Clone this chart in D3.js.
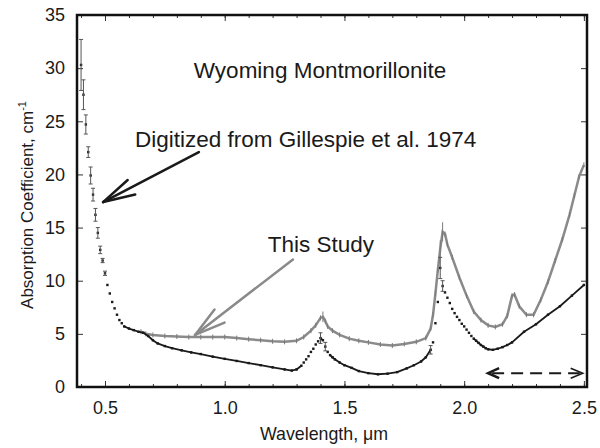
<!DOCTYPE html>
<meta charset="utf-8">
<script src="https://d3js.org/d3.v7.min.js"></script>
<style>
  body { margin: 0; background: #fff; }
  text { font-family: "Liberation Sans", Arial, sans-serif; fill: #1a1a1a; }
</style>
<div id="chart"></div>
<script>

var gilWl = [0.40,0.41,0.42,0.43,0.44,0.45,0.46,0.47,0.48,0.49,0.50,0.51,0.52,0.53,0.54,0.55,0.56,0.57,0.58,
  0.60,0.62,0.64,0.66,0.68,0.70,0.72,0.75,0.78,0.82,0.86,0.90,0.95,1.00,1.05,1.10,1.15,1.20,1.25,1.28,
  1.30,1.32,1.33,1.34,1.35,1.36,1.37,1.38,1.39,1.40,1.41,1.42,1.43,1.44,1.45,1.46,1.48,1.50,1.53,1.56,1.60,1.64,1.68,1.72,1.76,
  1.79,1.82,1.84,1.86,1.87,1.88,1.89,1.90,1.91,1.92,1.93,1.94,1.95,1.96,1.97,1.98,1.99,2.00,2.01,2.02,2.03,
  2.04,2.05,2.06,2.07,2.08,2.09,2.10,2.12,2.14,2.16,2.18,2.20,2.25,2.30,2.35,2.40,2.45,2.50]
var gilVal = [30.3,27.5,24.7,22.1,19.9,18.1,16.2,14.5,12.9,11.9,10.7,9.6,8.8,8.0,7.4,6.8,6.3,6.0,5.7,
  5.5,5.35,5.2,5.1,4.8,4.4,4.1,3.85,3.65,3.45,3.25,3.1,2.85,2.65,2.45,2.25,2.05,1.85,1.65,1.55,
  1.65,2.0,2.3,2.6,2.9,3.3,3.6,4.0,4.3,4.6,4.4,3.8,3.3,3.0,2.8,2.6,2.3,2.05,1.8,1.5,1.3,1.2,1.25,1.4,1.75,
  2.05,2.4,2.8,3.5,4.2,6.0,8.0,11.2,9.5,8.9,8.4,7.9,7.35,6.95,6.6,6.3,5.95,5.7,5.4,5.1,4.8,
  4.55,4.35,4.15,3.95,3.8,3.65,3.55,3.5,3.6,3.75,3.95,4.2,5.2,5.9,6.8,7.6,8.6,9.6]
var gilErr = [2.4,1.4,0.9,0.5,0.8,0.6,0.6,0.5,0.35,0.2,0.2,0,0,0,0,0,0,0,0,
  0,0,0,0,0,0,0,0,0,0,0,0,0,0,0,0,0,0,0,0,
  0,0,0,0,0,0,0,0,0,0.5,0,0.4,0,0,0,0,0,0,0,0,0,0,0,0,0,
  0,0,0,0.4,0,0,0,1.0,0.5,0,0,0,0,0,0,0,0,0,0,0,0,
  0,0,0,0,0,0,0,0,0,0,0,0,0,0,0,0,0,0]

// This study - gray line
var studyWl = [0.65,0.67,0.70,0.75,0.80,0.85,0.90,0.95,1.00,1.05,1.10,1.15,1.20,1.25,1.30,1.33,1.36,1.38,
  1.40,1.41,1.42,1.43,1.45,1.48,1.52,1.56,1.60,1.65,1.70,1.75,1.80,1.84,1.86,1.87,1.88,1.89,1.90,1.91,
  1.92,1.93,1.95,1.98,2.01,2.04,2.07,2.10,2.13,2.16,2.18,2.20,2.21,2.23,2.26,2.29,2.32,2.35,2.38,2.41,
  2.44,2.46,2.48,2.50]
var studyVal = [5.2,5.0,4.9,4.8,4.75,4.7,4.7,4.7,4.7,4.6,4.5,4.4,4.3,4.25,4.35,4.7,5.3,5.8,
  6.5,6.6,6.2,5.7,5.3,4.9,4.55,4.35,4.2,4.0,3.9,4.05,4.25,4.6,5.5,6.8,8.8,11.0,13.0,14.6,
  14.4,13.4,12.2,10.3,8.6,7.1,6.3,5.8,5.65,5.9,6.7,8.6,8.7,7.6,6.8,6.8,8.2,9.9,11.9,13.9,
  16.2,18.0,19.8,20.9]
var studyErr = {1.41: 0.5, 1.90: 0.8, 1.91: 0.9}

var xTicks = [0.5, 1.0, 1.5, 2.0, 2.5]
var yTicks = [0, 5, 10, 15, 20, 25, 30, 35]

var W = 600, H = 448
var svg = d3.select("#chart").append("svg").attr("width", W).attr("height", H)

var x = d3.scaleLinear().domain([0.383, 2.513]).range([77, 587])
var y = d3.scaleLinear().domain([0, 35]).range([387, 15])

// axes, ticks pointing inward on all four sides
var minor = d3.range(0.4, 2.51, 0.1).map(function(d){ return +d.toFixed(1) })
svg.append("g").attr("transform", "translate(0,387)")
  .call(d3.axisBottom(x).tickValues(minor).tickSize(-3).tickFormat(""))
svg.append("g").attr("transform", "translate(0,15)")
  .call(d3.axisTop(x).tickValues(minor).tickSize(-3).tickFormat(""))
svg.append("g").attr("transform", "translate(0,387)")
  .call(d3.axisBottom(x).tickValues(xTicks).tickSize(-6).tickPadding(14).tickFormat(d3.format(".1f")))
svg.append("g").attr("transform", "translate(0,15)")
  .call(d3.axisTop(x).tickValues(xTicks).tickSize(-6).tickFormat(""))
svg.append("g").attr("transform", "translate(77,0)")
  .call(d3.axisLeft(y).tickValues(yTicks).tickSize(-6).tickPadding(12))
svg.append("g").attr("transform", "translate(587,0)")
  .call(d3.axisRight(y).tickValues(yTicks).tickSize(-6).tickFormat(""))

svg.selectAll(".domain").remove()
svg.selectAll(".tick line").attr("stroke", "#333")
svg.selectAll(".tick text").attr("font-size", 18).attr("fill", "#1a1a1a")
  .style("font-family", '"Liberation Sans", Arial, sans-serif')

// frame
svg.append("rect").attr("x", 77).attr("y", 15).attr("width", 510).attr("height", 372)
  .attr("fill", "none").attr("stroke", "#111").attr("stroke-width", 2.5)

// gray series: this study
var study = studyWl.map(function(w, i){ return {w: w, v: studyVal[i], e: studyErr[w] || 0} })
svg.append("path").datum(study)
  .attr("fill", "none").attr("stroke", "#8a8a8a").attr("stroke-width", 2.5)
  .attr("d", d3.line().x(function(d){ return x(d.w) }).y(function(d){ return y(d.v) }))
svg.selectAll(".sm").data(study).enter().append("line")
  .attr("x1", function(d){ return x(d.w) }).attr("x2", function(d){ return x(d.w) })
  .attr("y1", function(d){ return Math.min(y(d.v + d.e), y(d.v) - 2.5) })
  .attr("y2", function(d){ return Math.max(y(d.v - d.e), y(d.v) + 2.5) })
  .attr("stroke", "#7a7a7a").attr("stroke-width", 1)

// black series: Gillespie et al.
// densely sampled steep stretches stay as separate dots, everything else reads as a line
var gil = gilWl.map(function(w, i){ return {w: w, v: gilVal[i], e: gilErr[i]} })
var segs = []
for (var i = 1; i < gil.length; i++) {
  var coarse = gil[i].w - gil[i-1].w > 0.015
  if (coarse || Math.abs(y(gil[i].v) - y(gil[i-1].v)) < 2.6) segs.push([gil[i-1], gil[i]])
}
svg.selectAll(".gseg").data(segs).enter().append("line")
  .attr("x1", function(d){ return x(d[0].w) }).attr("y1", function(d){ return y(d[0].v) })
  .attr("x2", function(d){ return x(d[1].w) }).attr("y2", function(d){ return y(d[1].v) })
  .attr("stroke", "#1a1a1a").attr("stroke-width", 1.8).attr("stroke-linecap", "round")
svg.selectAll(".gdot").data(gil).enter().append("rect")
  .attr("x", function(d){ return x(d.w) - 1.2 }).attr("y", function(d){ return y(d.v) - 1.2 })
  .attr("width", 2.4).attr("height", 2.4).attr("fill", "#1a1a1a")
var errs = gil.filter(function(d){ return d.e > 0 })
var eb = svg.selectAll(".eb").data(errs).enter().append("g").attr("stroke", "#555").attr("stroke-width", 1)
eb.append("line")
  .attr("x1", function(d){ return x(d.w) }).attr("x2", function(d){ return x(d.w) })
  .attr("y1", function(d){ return y(d.v + d.e) }).attr("y2", function(d){ return y(d.v - d.e) })
eb.append("line")
  .attr("x1", function(d){ return x(d.w) - 2 }).attr("x2", function(d){ return x(d.w) + 2 })
  .attr("y1", function(d){ return y(d.v + d.e) }).attr("y2", function(d){ return y(d.v + d.e) })
eb.append("line")
  .attr("x1", function(d){ return x(d.w) - 2 }).attr("x2", function(d){ return x(d.w) + 2 })
  .attr("y1", function(d){ return y(d.v - d.e) }).attr("y2", function(d){ return y(d.v - d.e) })

// annotations
function arrow(x0, y0, x1, y1, color, len, ang) {
  var a = Math.atan2(y0 - y1, x0 - x1)
  var g = svg.append("g").attr("stroke", color).attr("stroke-width", 2.5).attr("fill", "none")
    .attr("stroke-linecap", "round")
  g.append("line").attr("x1", x0).attr("y1", y0).attr("x2", x1).attr("y2", y1)
  ;[-ang, ang].forEach(function(s){
    g.append("line").attr("x1", x1).attr("y1", y1)
      .attr("x2", x1 + len * Math.cos(a + s)).attr("y2", y1 + len * Math.sin(a + s))
  })
  return g
}
arrow(x(0.892), y(22.1), x(0.492), y(17.4), "#1a1a1a", 33, 0.25)
arrow(x(1.285), y(12.0), x(0.876), y(4.9), "#8a8a8a", 32, 0.26)

// dashed double arrow
var dy0 = y(1.3), dxa = x(2.10), dxb = x(2.495)
svg.append("line").attr("x1", dxa + 4).attr("x2", dxb - 3).attr("y1", dy0).attr("y2", dy0)
  .attr("stroke", "#1a1a1a").attr("stroke-width", 2).attr("stroke-dasharray", "12,7")
svg.append("path").attr("d", "M" + (dxa + 11) + "," + (dy0 - 5) + "L" + dxa + "," + dy0 + "L" + (dxa + 11) + "," + (dy0 + 5))
  .attr("fill", "none").attr("stroke", "#1a1a1a").attr("stroke-width", 2.6)
svg.append("path").attr("d", "M" + (dxb - 12) + "," + (dy0 - 5) + "L" + dxb + "," + dy0 + "L" + (dxb - 12) + "," + (dy0 + 5))
  .attr("fill", "none").attr("stroke", "#1a1a1a").attr("stroke-width", 1.6)

svg.append("text").attr("x", x(1.398)).attr("y", y(29.1)).attr("text-anchor", "middle")
  .attr("font-size", 22.5).text("Wyoming Montmorillonite")
svg.append("text").attr("x", x(0.625)).attr("y", y(22.6))
  .attr("font-size", 22.5).text("Digitized from Gillespie et al. 1974")
svg.append("text").attr("x", x(1.18)).attr("y", y(12.7))
  .attr("font-size", 22.5).text("This Study")

// axis titles
svg.append("text").attr("x", 324).attr("y", 440).attr("text-anchor", "middle")
  .attr("font-size", 17.8).text("Wavelength, \u03bcm")
var yl = svg.append("text").attr("transform", "translate(33,205) rotate(-90)")
  .attr("text-anchor", "middle").attr("font-size", 17)
yl.append("tspan").text("Absorption Coefficient, cm")
yl.append("tspan").attr("dy", -7).attr("font-size", 11).text("-1")

</script>
